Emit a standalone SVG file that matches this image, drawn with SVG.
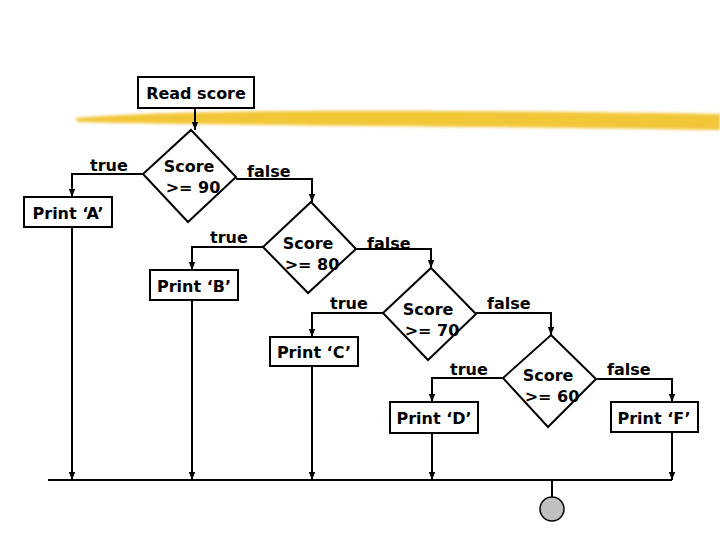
<svg xmlns="http://www.w3.org/2000/svg" width="720" height="540" viewBox="0 0 720 540">
<defs>
<style>
text{font-family:"DejaVu Sans",Verdana,sans-serif;font-weight:bold;font-size:16px;fill:#000}
.b{fill:#fff;stroke:#000;stroke-width:2}
.c{fill:none;stroke:#000;stroke-width:2}
.m{text-anchor:middle}
</style>
<marker id="a" markerWidth="8" markerHeight="8" refX="4" refY="6" orient="auto" markerUnits="userSpaceOnUse"><path d="M0,0 L8,0 L4,7 Z" transform="rotate(-90 4 4)"/></marker>
<marker id="d" viewBox="0 0 10 10" refX="10" refY="5" markerWidth="8" markerHeight="8" orient="auto" markerUnits="userSpaceOnUse"><path d="M0,1 L10,5 L0,9 Z"/></marker>
<filter id="bl"><feGaussianBlur stdDeviation="1.5"/></filter>
</defs>
<rect width="720" height="540" fill="#fff"/>
<path d="M75,118 C200,108 450,110 720,114 L720,130 C500,126 250,126 78,122 Z" fill="#f0c020" opacity="0.9" filter="url(#bl)"/>
<g id="connectors" class="c">
<path d="M195,108 V130" marker-end="url(#d)"/>
<path d="M143,174 H72 V197" marker-end="url(#d)"/>
<path d="M236,179 H312 V202" marker-end="url(#d)"/>
<path d="M263,247 H192 V270" marker-end="url(#d)"/>
<path d="M356,249 H431 V268" marker-end="url(#d)"/>
<path d="M383,313 H312 V337" marker-end="url(#d)"/>
<path d="M476,313 H551 V335" marker-end="url(#d)"/>
<path d="M503,378 H432 V402" marker-end="url(#d)"/>
<path d="M596,379 H672 V402" marker-end="url(#d)"/>
<path d="M72,227 V480" marker-end="url(#d)"/>
<path d="M192,300 V480" marker-end="url(#d)"/>
<path d="M312,366 V480" marker-end="url(#d)"/>
<path d="M432,433 V480" marker-end="url(#d)"/>
<path d="M672,432 V480" marker-end="url(#d)"/>
<path d="M48,480 H672"/>
<path d="M552,480 V497"/>
</g>
<g id="read"><rect class="b" x="138" y="77" width="116" height="31"/><text class="m" x="196" y="99">Read score</text></g>
<g id="d90"><path class="b" d="M191,130 L236,177 L188,222 L143,174 Z"/><text class="m" x="189" y="172">Score</text><text class="m" x="193" y="193">&gt;= 90</text></g>
<g id="d80"><path class="b" d="M311,202 L356,249 L308,293 L263,247 Z"/><text class="m" x="308" y="249">Score</text><text class="m" x="312" y="270">&gt;= 80</text></g>
<g id="d70"><path class="b" d="M431,268 L476,314 L428,360 L383,313 Z"/><text class="m" x="428" y="315">Score</text><text class="m" x="432" y="336">&gt;= 70</text></g>
<g id="d60"><path class="b" d="M551,335 L596,379 L548,427 L503,378 Z"/><text class="m" x="548" y="381">Score</text><text class="m" x="552" y="402">&gt;= 60</text></g>
<g id="pA"><rect class="b" x="24" y="197" width="88" height="30"/><text class="m" x="68" y="219">Print ‘A’</text></g>
<g id="pB"><rect class="b" x="150" y="270" width="88" height="30"/><text class="m" x="194" y="292">Print ‘B’</text></g>
<g id="pC"><rect class="b" x="270" y="337" width="88" height="29"/><text class="m" x="314" y="358">Print ‘C’</text></g>
<g id="pD"><rect class="b" x="390" y="402" width="88" height="31"/><text class="m" x="434" y="424">Print ‘D’</text></g>
<g id="pF"><rect class="b" x="611" y="402" width="87" height="30"/><text class="m" x="654" y="424">Print ‘F’</text></g>
<g id="end"><circle cx="552" cy="509" r="12" fill="#c0c0c0" stroke="#000" stroke-width="1.5"/></g>
<g id="labels">
<text x="90" y="171">true</text><text x="247" y="177">false</text>
<text x="210" y="243">true</text><text x="367" y="249">false</text>
<text x="330" y="309">true</text><text x="487" y="309">false</text>
<text x="450" y="375">true</text><text x="607" y="375">false</text>
</g>
</svg>
